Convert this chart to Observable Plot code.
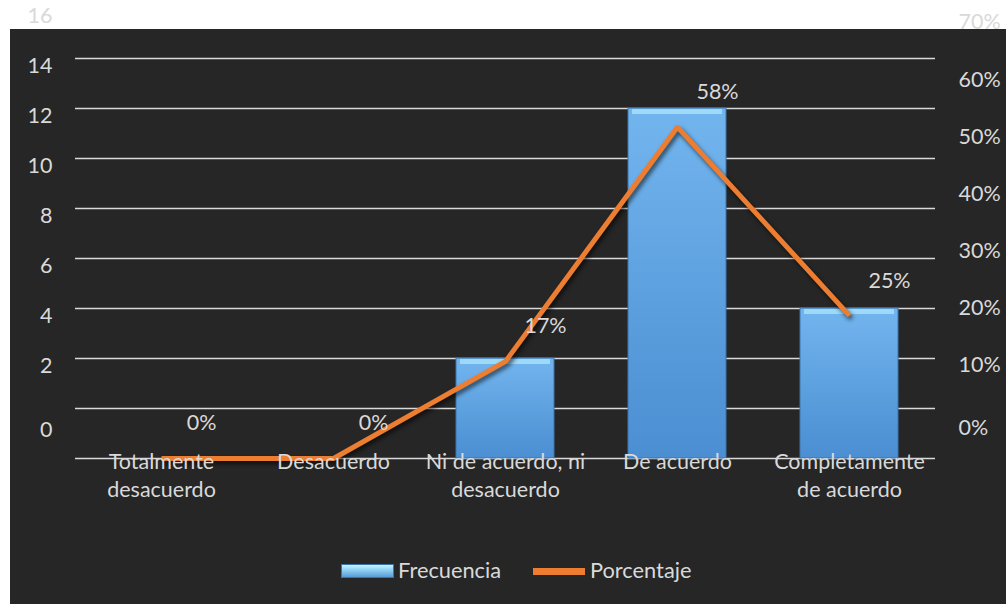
<!DOCTYPE html>
<html><head><meta charset="utf-8">
<script src="https://cdn.jsdelivr.net/npm/d3@7"></script>
<script src="https://cdn.jsdelivr.net/npm/@observablehq/plot@0.6"></script>
<style>
html,body{margin:0;padding:0;background:#fff;}
#wrap{position:relative;width:1006px;height:604px;overflow:hidden;font-family:Lato,sans-serif;}
#panel{position:absolute;left:10px;top:29px;right:0;bottom:0;background:#262626;}
#chart{position:absolute;left:0;top:0;}
#chart svg g[aria-label=line]{filter:drop-shadow(2px 3px 2px rgba(0,0,0,0.6));}
.lg{position:absolute;color:#d9d9d9;font-size:21.8px;line-height:26px;top:557px;white-space:nowrap;}
.sw1{position:absolute;left:341px;top:564px;width:51px;height:12px;border:1px solid #3a74ac;background:linear-gradient(#c9f3ff 0%,#8fd3f7 40%,#5b9bd5 100%);}
.sw2{position:absolute;left:533px;top:568px;width:52px;height:7px;background:#ed7d31;}
</style></head><body>
<div id="wrap">
  <div id="panel"></div>
  <div id="chart"></div>
  <div class="sw1"></div><div class="lg" style="left:398px">Frecuencia</div>
  <div class="sw2"></div><div class="lg" style="left:590px">Porcentaje</div>
</div>
<script>
const categories = ["Totalmente\ndesacuerdo", "Desacuerdo", "Ni de acuerdo, ni\ndesacuerdo", "De acuerdo", "Completamente\nde acuerdo"];
const frecuencia = [0, 0, 2, 12, 4];
const porcentaje = [0, 0, 17, 58, 25];
const freqTicks = [0, 2, 4, 6, 8, 10, 12, 14, 16];
const pctTicks = [0, 10, 20, 30, 40, 50, 60, 70];
const gridValues = [-2, 0, 2, 4, 6, 8, 10, 12, 14];

// percentage axis shares the vertical range: 0% at the baseline (-2), 70% at 14
const pv = p => -2 + p * 16 / 70;
const data = categories.map((c, i) => ({cat: c, freq: frecuencia[i], pct: porcentaje[i]}));

const txt = "#d9d9d9";
const fs = 21.5;

function defs() {
  const ns = "http://www.w3.org/2000/svg";
  const d = document.createElementNS(ns, "defs");
  d.innerHTML = `<linearGradient id="barGrad" x1="0" y1="0" x2="0" y2="1">
    <stop offset="0" stop-color="#72b5ee"/>
    <stop offset="1" stop-color="#4b8ed2"/>
  </linearGradient>`;
  return d;
}

const chart = Plot.plot({
  width: 1006,
  height: 540,
  marginLeft: 75,
  marginRight: 71,
  marginTop: 8,
  marginBottom: 82,
  style: {background: "transparent", color: txt, fontFamily: "Lato, sans-serif", fontSize: fs + "px", overflow: "visible"},
  x: {domain: categories, paddingInner: 0.43, paddingOuter: 0.215, axis: null},
  y: {domain: [-2, 16]},
  marks: [
    defs,
    Plot.ruleY(gridValues, {stroke: "#d9d9d9", strokeWidth: 1.6}),
    Plot.barY(data, {filter: d => d.freq > 0, x: "cat", y1: -2, y2: "freq", fill: "url(#barGrad)", stroke: "#3a74ac", strokeWidth: 1}),
    Plot.tickY(data, {filter: d => d.freq > 0, x: "cat", y: "freq", stroke: "#aee6fb", strokeOpacity: 0.75, strokeWidth: 5, dy: 3, insetLeft: 4, insetRight: 4}),
    Plot.line(data, {x: "cat", y: d => pv(d.pct), stroke: "#ed7d31", strokeWidth: 5, strokeLinejoin: "miter", strokeLinecap: "butt"}),
    Plot.text(data, {x: "cat", y: -2, text: "cat", lineAnchor: "top", dy: -9, lineHeight: 1.3, fill: txt, fontSize: fs}),
    Plot.text(data, {x: "cat", y: d => pv(d.pct), text: d => d.pct + "%", dx: 40, dy: -35, fill: txt, fontSize: fs}),
    Plot.axisY(freqTicks.filter(v => v > 0), {anchor: "left", tickSize: 0, tickPadding: 23, dy: 8, label: null, fontSize: fs}),
    Plot.axisY([freqTicks[0]], {anchor: "left", tickSize: 0, tickPadding: 23, dy: 22, label: null, fontSize: fs}),
    Plot.axisY(pctTicks.filter(p => p > 0).map(pv), {anchor: "right", tickSize: 0, tickPadding: 23, dy: -36, label: null, fontSize: fs,
      tickFormat: d => Math.round((d + 2) * 70 / 16) + "%"}),
    Plot.axisY([pv(pctTicks[0])], {anchor: "right", tickSize: 0, tickPadding: 23, dy: -30, label: null, fontSize: fs,
      tickFormat: d => Math.round((d + 2) * 70 / 16) + "%"})
  ]
});
document.getElementById("chart").appendChild(chart);
</script>
</body></html>
